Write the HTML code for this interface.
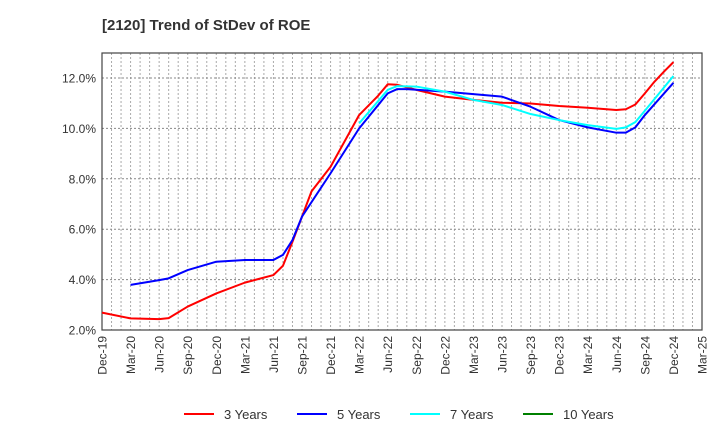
<!DOCTYPE html>
<html><head><meta charset="utf-8"><style>
body{margin:0;background:#fff;font-family:"Liberation Sans",Arial,sans-serif}
svg text{font-family:"Liberation Sans",Arial,sans-serif}
</style></head><body>
<svg id="chart" width="720" height="440" xmlns="http://www.w3.org/2000/svg">
<text x="102" y="30" font-size="15" font-weight="bold" fill="#333">[2120]  Trend of StDev of ROE</text>
<g id="grid"></g>
<g id="axes"></g>
<g id="series"></g>
<g id="legend"></g>
</svg>
<script>
const xTickLabels=["Dec-19","Mar-20","Jun-20","Sep-20","Dec-20","Mar-21","Jun-21","Sep-21","Dec-21","Mar-22","Jun-22","Sep-22","Dec-22","Mar-23","Jun-23","Sep-23","Dec-23","Mar-24","Jun-24","Sep-24","Dec-24","Mar-25"];
const yTicks=[2,4,6,8,10,12];
const seriesNames=["3 Years","5 Years","7 Years","10 Years"];
const seriesColors=["#ff0000","#0000ff","#00ffff","#008000"];
// month index from Dec-19
const months3=[0,3,6,7,9,12,15,18,19,20,21,22,24,27,29,30,31,33,36,39,42,45,48,51,54,55,56,57,58,59,60];
const vals3=[2.69,2.46,2.43,2.47,2.93,3.45,3.88,4.18,4.55,5.5,6.5,7.5,8.48,10.53,11.3,11.75,11.73,11.53,11.26,11.13,11.02,10.99,10.89,10.82,10.73,10.76,10.95,11.39,11.85,12.25,12.63];
const months5=[3,6,7,9,12,15,18,19,20,21,24,27,30,31,32,36,42,45,48,51,54,55,56,57,60];
const vals5=[3.79,3.98,4.05,4.38,4.71,4.78,4.78,4.98,5.57,6.5,8.22,10.0,11.39,11.56,11.56,11.46,11.26,10.86,10.33,10.04,9.83,9.83,10.04,10.53,11.81];
const months7=[27,30,31,33,36,39,42,45,48,51,54,55,56,57,60];
const vals7=[10.2,11.53,11.68,11.66,11.46,11.13,10.93,10.57,10.33,10.13,9.98,10.04,10.25,10.7,12.08];
const months10=[];
const vals10=[];
const X0=102,X1=702,Y0=330,Y1=53;
const x=m=>X0+(X1-X0)*m/63;
const y=v=>Y0-(v-2)*25.2;
const NS="http://www.w3.org/2000/svg";
function mk(tag,attrs,parent){const e=document.createElementNS(NS,tag);for(const k in attrs)e.setAttribute(k,attrs[k]);parent.appendChild(e);return e;}
const grid=document.getElementById('grid'),axes=document.getElementById('axes'),ser=document.getElementById('series'),leg=document.getElementById('legend');
for(let m=1;m<63;m++){const l=mk('line',{x1:x(m),x2:x(m),y1:Y1,y2:Y0,stroke:'#aaa','stroke-dasharray':'2,2','stroke-width':1},grid);

}
yTicks.forEach(v=>{if(v>2){const l=mk('line',{x1:X0,x2:X1,y1:y(v),y2:y(v),stroke:'#888','stroke-dasharray':'2,2','stroke-width':1},grid);

}
const t=mk('text',{x:X0-6,y:y(v)+4.5,'text-anchor':'end','font-size':12,fill:'#333'},axes);t.textContent=v.toFixed(1)+'%';

});
const r=mk('rect',{x:X0,y:Y1,width:X1-X0,height:Y0-Y1,fill:'none',stroke:'#444','stroke-width':1.2},axes);


xTickLabels.forEach((lab,i)=>{const xx=x(i*3);const t=mk('text',{x:0,y:0,'text-anchor':'end','font-size':12,fill:'#333',transform:`translate(${xx+4.5},336) rotate(-90)`},axes);t.textContent=lab;

});
[[months3,vals3],[months5,vals5],[months7,vals7],[months10,vals10]].forEach((s,i)=>{if(!s[0].length)return;
const p=mk('polyline',{points:s[0].map((m,j)=>x(m)+','+y(s[1][j])).join(' '),fill:'none',stroke:seriesColors[i],'stroke-width':2,'stroke-linejoin':'round'},ser);

});
const lx=[184,297,410,523];
seriesNames.forEach((n,i)=>{const g=mk('g',{},leg);


mk('line',{x1:lx[i],x2:lx[i]+30,y1:414,y2:414,stroke:seriesColors[i],'stroke-width':2},g);
const t=mk('text',{x:lx[i]+40,y:419,'font-size':13,fill:'#333'},g);t.textContent=n;});
</script>
</body></html>
